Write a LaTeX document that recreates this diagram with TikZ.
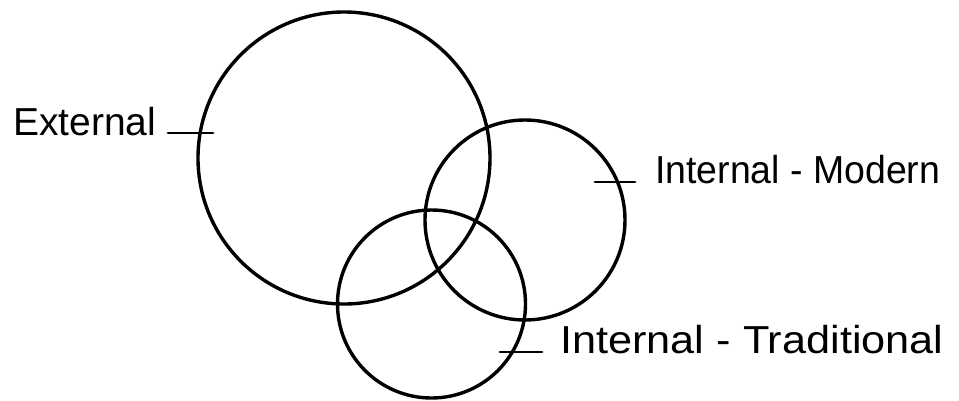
\documentclass[tikz,border=0pt]{standalone}
\usepackage{fontspec}
\setmainfont{Liberation Sans}
\begin{document}
\begin{tikzpicture}[x=1pt,y=-1pt,
  ring/.style={draw=black, line width=3.4pt, circle, inner sep=0pt, outer sep=0pt},
  lbl/.style={anchor=base west, inner sep=0pt, font=\fontsize{39}{44}\selectfont},
  leader/.style={draw=black, line width=2.8pt, line cap=round}]
\useasboundingbox (0,0) rectangle (959,400);
\node[ring, minimum size=292pt] (ext) at (344,158) {};
\node[ring, minimum size=200pt] (mod) at (525,220) {};
\node[ring, minimum size=188pt] (trad) at (431.5,304) {};
\node[lbl] (lext) at (13,135) {\scalebox{1.0}[1]{External}};
\node[lbl] (lmod) at (655,183) {\scalebox{0.96}[1]{Internal - Modern}};
\node[lbl] (ltrad) at (560,353) {\scalebox{1.11}[1]{Internal - Traditional}};
\coordinate (e1) at (168,133);
\coordinate (e2) at (213,133);
\coordinate (m1) at (595,182);
\coordinate (m2) at (635,182);
\coordinate (t1) at (500,352);
\coordinate (t2) at (542,352);
\draw[leader] (e1) -- (e2);
\draw[leader] (m1) -- (m2);
\draw[leader] (t1) -- (t2);
\end{tikzpicture}
\end{document}
